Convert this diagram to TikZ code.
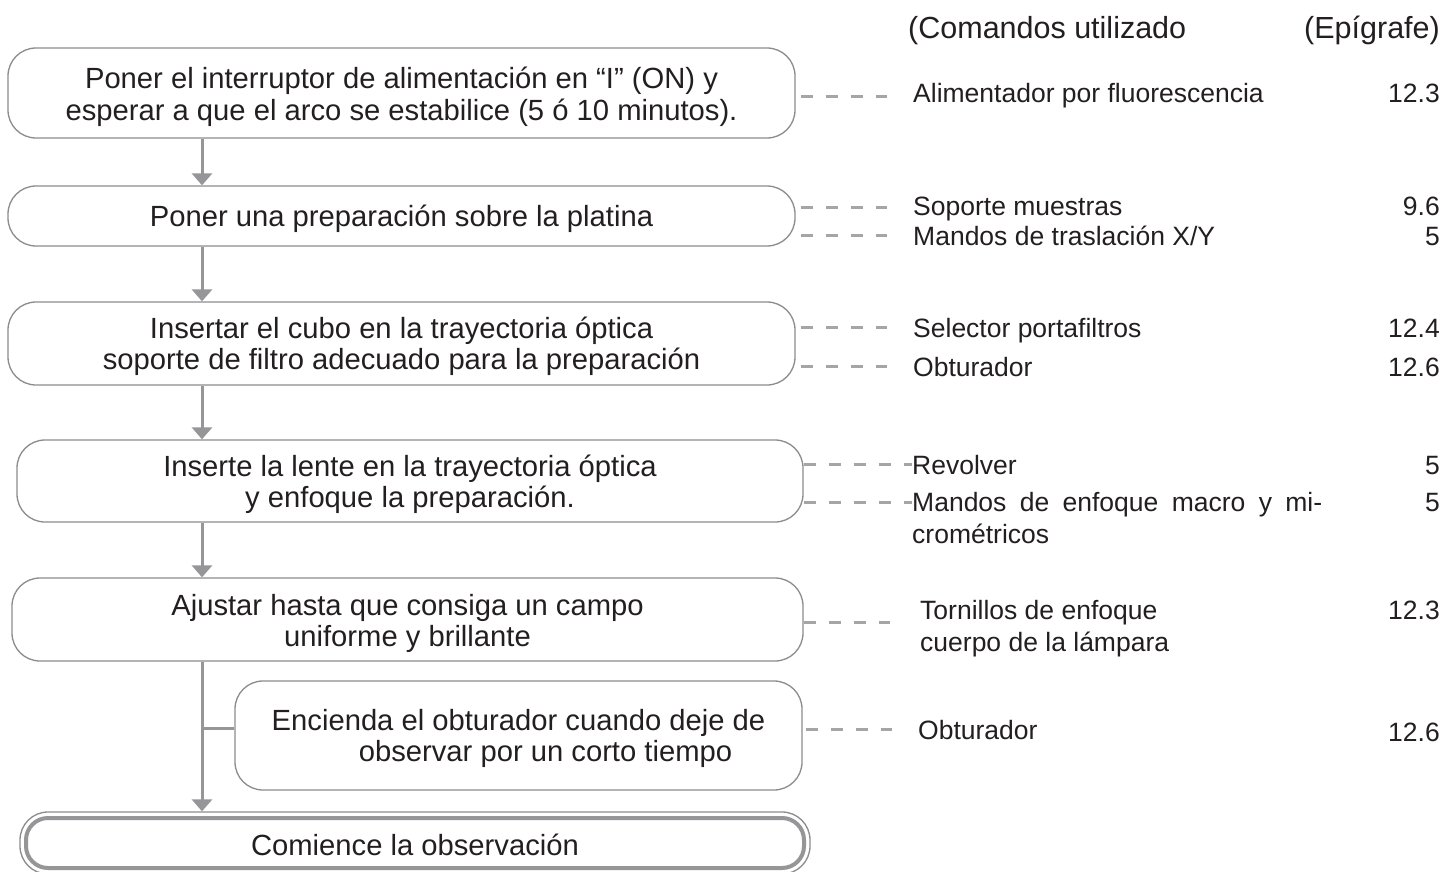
\documentclass[tikz,border=0pt]{standalone}
\usepackage{fontspec}
\setmainfont{Liberation Sans}
\usetikzlibrary{arrows.meta}
\definecolor{boxgray}{RGB}{140,140,140}
\definecolor{arrgray}{RGB}{150,150,153}
\definecolor{dashgray}{RGB}{165,165,168}
\definecolor{txt}{RGB}{35,31,32}
\begin{document}
\begin{tikzpicture}[x=1pt,y=-1pt,
  stepbox/.style={draw=boxgray, line width=1.3pt, rounded corners=28pt, inner sep=0pt},
  boxtext/.style={align=center, text=txt, font=\fontsize{29.2}{31.5}\selectfont, inner sep=0pt},
  flow/.style={draw=arrgray, line width=3pt, -{Triangle[width=20pt,length=12pt]}},
  link/.style={draw=arrgray, line width=3pt},
  dashline/.style={draw=dashgray, line width=3pt, dash pattern=on 12pt off 13pt},
  lbl/.style={font=\fontsize{26.5}{32}\selectfont, text=txt, anchor=base west, inner sep=0pt},
  num/.style={font=\fontsize{26.5}{32}\selectfont, text=txt, anchor=base east, inner sep=0pt},
  hdr/.style={font=\fontsize{30.5}{34}\selectfont, text=txt, inner sep=0pt}
]
\useasboundingbox (0,0) rectangle (1448,872);
\fill[white] (0,0) rectangle (1448,872);

% header
\node[hdr, anchor=base west] (h1) at (908,39) {(Comandos utilizado};
\node[hdr, anchor=base east] (h2) at (1440,39) {(Epígrafe)};

% step boxes
\node[stepbox, minimum width=787pt, minimum height=90pt] (b1) at (401.5,93) {};
\node[boxtext] (t1) at ([yshift=-4pt]b1.center)
  {Poner el interruptor de alimentación en “I” (ON) y\\esperar a que el arco se estabilice (5 ó 10 minutos).};
\node[stepbox, minimum width=787pt, minimum height=60pt] (b2) at (401.5,216) {};
\node[boxtext] (t2) at ([yshift=-3pt]b2.center) {Poner una preparación sobre la platina};
\node[stepbox, minimum width=787pt, minimum height=83pt] (b3) at (401.5,343.5) {};
\node[boxtext] (t3) at ([yshift=-3pt]b3.center)
  {Insertar el cubo en la trayectoria óptica\\soporte de filtro adecuado para la preparación};
\node[stepbox, minimum width=786pt, minimum height=82pt] (b4) at (410,481) {};
\node[boxtext] (t4) at ([yshift=-3.5pt]b4.center)
  {Inserte la lente en la trayectoria óptica\\y enfoque la preparación.};
\node[stepbox, minimum width=791pt, minimum height=83pt] (b5) at (407.5,619.5) {};
\node[boxtext] (t5) at ([yshift=-4pt]b5.center)
  {Ajustar hasta que consiga un campo\\uniforme y brillante};
\node[stepbox, minimum width=567pt, minimum height=109pt] (b6) at (518.5,735.5) {};
\node[boxtext] (t6) at ([yshift=-3pt]b6.center)
  {Encienda el obturador cuando deje de\\\hspace*{54pt}observar por un corto tiempo};
\node[stepbox, minimum width=790pt, minimum height=62pt] (b7) at (415,843) {};
\node[stepbox, draw=arrgray, line width=4pt, rounded corners=22pt, minimum width=778pt, minimum height=50pt] (b7i) at (415,843) {};
\node[boxtext] (t7) at ([yshift=-2pt]b7i.center) {Comience la observación};

% flow connectors
\coordinate (ax) at (202,0);
\draw[flow] (b1.south -| ax) -- (b2.north -| ax);
\draw[flow] (b2.south -| ax) -- (b3.north -| ax);
\draw[flow] (b3.south -| ax) -- (b4.north -| ax);
\draw[flow] (b4.south -| ax) -- (b5.north -| ax);
\draw[flow] (b5.south -| ax) -- (b7.north -| ax);
\coordinate (br) at ([yshift=7pt]b6.west);
\draw[link] (br -| ax) -- (br);

% labels
\node[lbl] (l1) at (913,102.5) {Alimentador por fluorescencia};
\node[num] (n1) at (1440,102.5) {12.3};
\node[lbl] (l2) at (913,215.5) {Soporte muestras};
\node[num] (n2) at (1440,215.5) {9.6};
\node[lbl] (l3) at (913,245.5) {Mandos de traslación X/Y};
\node[num] (n3) at (1440,245.5) {5};
\node[lbl] (l4) at (913,337.5) {Selector portafiltros};
\node[num] (n4) at (1440,337.5) {12.4};
\node[lbl] (l5) at (913,376.5) {Obturador};
\node[num] (n5) at (1440,376.5) {12.6};
\node[lbl] (l6) at (912,474.5) {Revolver};
\node[num] (n6) at (1440,474.5) {5};
\node[lbl] (l7) at (912,511.5) {\makebox[410pt][s]{Mandos de enfoque macro y mi-}};
\node[num] (n7) at (1440,511.5) {5};
\node[lbl] (l8) at (912,543.5) {crométricos};
\node[lbl] (l9) at (920,619.5) {Tornillos de enfoque};
\node[num] (n9) at (1440,619.5) {12.3};
\node[lbl] (l10) at (920,651.5) {cuerpo de la lámpara};
\node[lbl] (l11) at (918,739.5) {Obturador};
\node[num] (n11) at (1440,741.5) {12.6};

% dashed leaders
\coordinate (e1) at (887,97);
\coordinate (e2) at (887,207);
\coordinate (e3) at (887,235);
\coordinate (e4) at (887,327);
\coordinate (e5) at (887,366);
\coordinate (e6) at (l6.west |- 0,464);
\coordinate (e7) at (l7.west |- 0,502);
\coordinate (e8) at (890,622);
\coordinate (e9) at (892,729);
\draw[dashline, shorten <=5pt] (e1 -| b1.east) -- (e1);
\draw[dashline, shorten <=5pt] (e2 -| b2.east) -- (e2);
\draw[dashline, shorten <=5pt] (e3 -| b2.east) -- (e3);
\draw[dashline, shorten <=5pt] (e4 -| b3.east) -- (e4);
\draw[dashline, shorten <=5pt] (e5 -| b3.east) -- (e5);
\draw[dashline] (e6 -| b4.east) -- (e6);
\draw[dashline] (e7 -| b4.east) -- (e7);
\draw[dashline] (e8 -| b5.east) -- (e8);
\draw[dashline, shorten <=3pt] (e9 -| b6.east) -- (e9);
\end{tikzpicture}
\end{document}
